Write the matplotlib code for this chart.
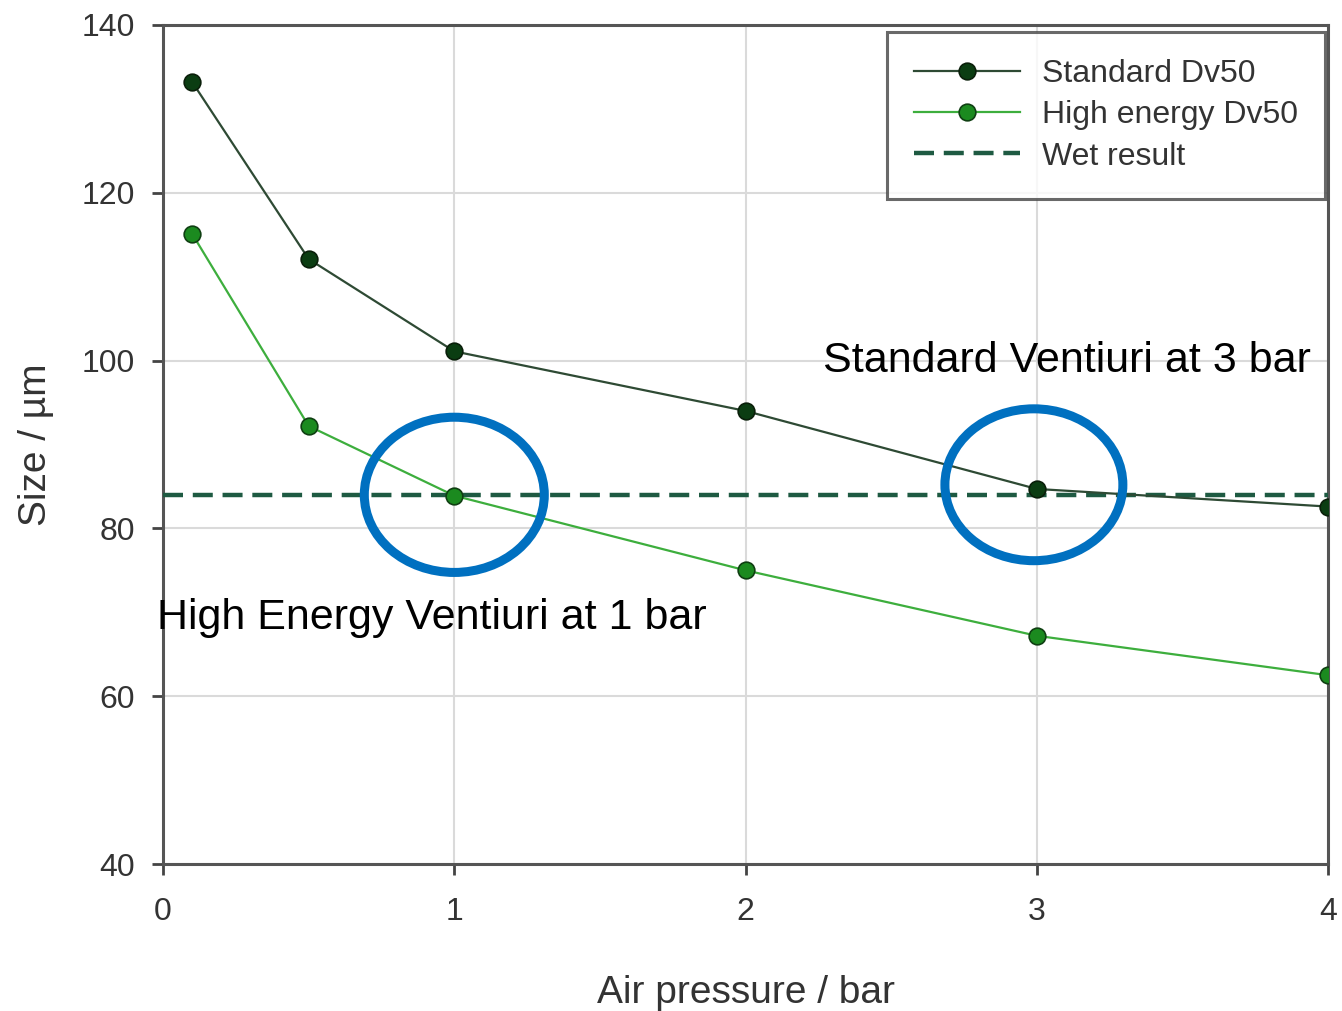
import matplotlib
matplotlib.use("Agg")
import matplotlib.pyplot as plt
from matplotlib.patches import Ellipse

plt.rcParams['font.family'] = ['Liberation Sans', 'DejaVu Sans']

# Particle size versus dispersing air pressure
pressure = [0.1, 0.5, 1, 2, 3, 4]
standard_dv50 = [133.2, 112.1, 101.1, 94.0, 84.7, 82.6]
high_energy_dv50 = [115.1, 92.2, 83.9, 75.0, 67.2, 62.5]
wet_result = 84.0

x_ticks = [0, 1, 2, 3, 4]
y_ticks = [40, 60, 80, 100, 120, 140]

fig = plt.figure(figsize=(13.42, 10.11), dpi=100)
ax = fig.add_axes([0.1215, 0.1454, 0.8681, 0.8299])

ax.plot(pressure, standard_dv50, color='#2e4a34', lw=1.6, marker='o', ms=12,
        mfc='#0b3d12', mec='#0a1f0a', mew=1.2, label='Standard Dv50', zorder=4)
ax.plot(pressure, high_energy_dv50, color='#3dae3d', lw=1.6, marker='o', ms=12,
        mfc='#1b8a1f', mec='#0f3f12', mew=1.2, label='High energy Dv50', zorder=4)
ax.axhline(wet_result, color='#1e5a42', lw=3.2, ls=(0, (4.5, 2.2)),
           label='Wet result', zorder=3)

ax.set_xlim(0, 4)
ax.set_ylim(40, 140)
ax.set_xticks(x_ticks)
ax.set_yticks(y_ticks)
ax.grid(True, color='#dadada', lw=1.5, zorder=0)

for side in ['left', 'bottom', 'top', 'right']:
    ax.spines[side].set_color('#555555')
    ax.spines[side].set_linewidth(2.2)
ax.tick_params(direction='out', length=8, width=2, color='#444444',
               labelsize=23, labelcolor='#333333')
ax.tick_params(axis='x', pad=16)
ax.tick_params(axis='y', pad=12)

ax.set_xlabel('Air pressure / bar', fontsize=28, color='#333333', labelpad=34)
ax.set_ylabel('Size / µm', fontsize=28, color='#333333', labelpad=20)

# Highlight where each venturi meets the wet result
ax.add_patch(Ellipse((1, 84.0), 0.618, 18.5, fill=False, ec='#0070c0', lw=6.5, zorder=6))
ax.add_patch(Ellipse((2.99, 85.2), 0.611, 18.1, fill=False, ec='#0070c0', lw=6.5, zorder=6))

ax.text(2.265, 99.9, 'Standard Ventiuri at 3 bar', fontsize=31, color='black',
        va='center', ha='left', zorder=7)
ax.text(-0.02, 69.3, 'High Energy Ventiuri at 1 bar', fontsize=31, color='black',
        va='center', ha='left', zorder=7)

leg = ax.legend(loc='upper right', fontsize=23, frameon=True, fancybox=False,
                edgecolor='#444444', borderpad=0.85, handlelength=3.3,
                handletextpad=0.7, labelspacing=0.35, borderaxespad=0.0,
                bbox_to_anchor=(0.9975, 0.9915))
leg.get_frame().set_linewidth(2.2)
for t in leg.get_texts():
    t.set_color('#333333')

fig.savefig('out.png', dpi=100)
